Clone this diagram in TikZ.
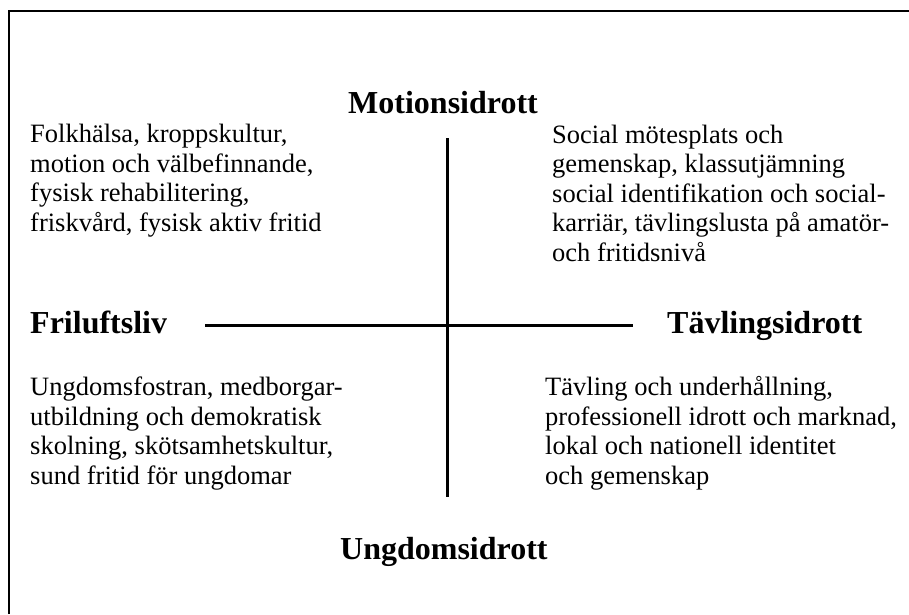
\documentclass[tikz,border=0pt]{standalone}
\usepackage{fontspec}
\setmainfont{Liberation Serif}

\begin{document}
\begin{tikzpicture}[x=1pt,y=-1pt,
        head/.style={font=\fontsize{32}{35}\selectfont\bfseries,inner sep=0pt,anchor=base west},
        field/.style={font=\fontsize{26.5}{29.5}\selectfont,inner sep=0pt,anchor=base west,align=left},
        axis/.style={-,line width=3pt}]
        \useasboundingbox (0,0) rectangle (909,614);
        \draw[-,line width=2pt](9,614)--(9,11)--(909,11);

        \node[head] (motion) at (348,113) {Motionsidrott};
        \node[head] (ungdom) at (340,559) {Ungdomsidrott};
        \node[head] (frilufts) at (30,333) {Friluftsliv};
        \node[head] (tavling) at (667,333) {Tävlingsidrott};

        \coordinate (top) at (447,138);
        \coordinate (bottom) at (447,497);
        \coordinate (left) at (205,325);
        \coordinate (right) at (633,325);
        \draw[axis](top)--(bottom);
        \draw[axis](left)--(right);

        % base anchor sits on the last line
        \node[field] (folk) at (30,231) {Folkhälsa, kroppskultur,\\motion och välbefinnande,\\fysisk rehabilitering,\\friskvård, fysisk aktiv fritid};
        \node[field] (social) at (552,261) {Social mötesplats och\\gemenskap, klassutjämning\\social identifikation och social-\\karriär, tävlingslusta på amatör-\\och fritidsnivå};
        \node[field] (fostran) at (30,484) {Ungdomsfostran, medborgar-\\utbildning och demokratisk\\skolning, skötsamhetskultur,\\sund fritid för ungdomar};
        \node[field] (tavl) at (545,484) {Tävling och underhållning,\\professionell idrott och marknad,\\lokal och nationell identitet\\och gemenskap};
    \end{tikzpicture}
\end{document}
